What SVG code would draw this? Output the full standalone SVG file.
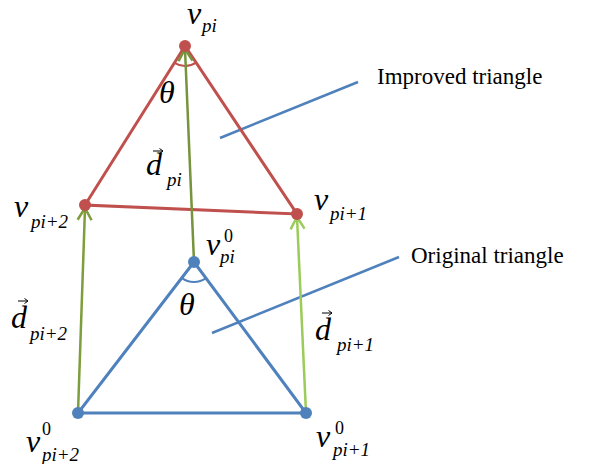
<svg xmlns="http://www.w3.org/2000/svg" width="604" height="464" viewBox="0 0 604 464">
<defs>
<marker id="a1" markerUnits="userSpaceOnUse" markerWidth="30" markerHeight="30" refX="15" refY="15" orient="auto" viewBox="0 0 30 30"><path d="M3,8 L15,15 L3,22" fill="none" stroke="#77933C" stroke-width="2.5"/></marker>
<marker id="a2" markerUnits="userSpaceOnUse" markerWidth="30" markerHeight="30" refX="15" refY="15" orient="auto" viewBox="0 0 30 30"><path d="M3,8 L15,15 L3,22" fill="none" stroke="#7E9E3C" stroke-width="2.5"/></marker>
<marker id="a3" markerUnits="userSpaceOnUse" markerWidth="30" markerHeight="30" refX="15" refY="15" orient="auto" viewBox="0 0 30 30"><path d="M3,8 L15,15 L3,22" fill="none" stroke="#9BCB5A" stroke-width="2.5"/></marker>
</defs>
<g id="connectors">
<line x1="220" y1="138" x2="358" y2="82" stroke="#4F81BD" stroke-width="2.5"/>
<line x1="212" y1="333" x2="399" y2="257" stroke="#4F81BD" stroke-width="2.5"/>
<polygon points="185,46 85,205 297,214" fill="none" stroke="#C0504D" stroke-width="3"/>
<polygon points="194,262 78,413 306,413" fill="none" stroke="#4F81BD" stroke-width="3"/>
<path d="M174.4,62.9 A20,20 0 0 0 196.1,62.6" fill="none" stroke="#C0504D" stroke-width="2"/>
<path d="M181.8,277.9 A20,20 0 0 0 205.9,278.1" fill="none" stroke="#4F81BD" stroke-width="2"/>
<line x1="194" y1="262" x2="185" y2="49" stroke="#77933C" stroke-width="2.5" marker-end="url(#a1)"/>
<line x1="78" y1="413" x2="85" y2="208" stroke="#7E9E3C" stroke-width="2.5" marker-end="url(#a2)"/>
<line x1="306" y1="413" x2="297" y2="217" stroke="#9BCB5A" stroke-width="2.5" marker-end="url(#a3)"/>
</g>
<g id="node-vpi">
<circle cx="185" cy="46" r="6" fill="#C0504D"/>
<text font-family="Liberation Serif" font-style="italic" font-size="32" x="187" y="24">v</text><text font-family="Liberation Serif" font-style="italic" font-size="19" x="202" y="32">pi</text>
</g>
<g id="node-vpi2">
<circle cx="85" cy="205" r="6" fill="#C0504D"/>
<text font-family="Liberation Serif" font-style="italic" font-size="32" x="14" y="217">v</text><text font-family="Liberation Serif" font-style="italic" font-size="19" x="31" y="228">pi+2</text>
</g>
<g id="node-vpi1">
<circle cx="297" cy="214" r="6" fill="#C0504D"/>
<text font-family="Liberation Serif" font-style="italic" font-size="32" x="314" y="210">v</text><text font-family="Liberation Serif" font-style="italic" font-size="19" x="330" y="220">pi+1</text>
</g>
<g id="node-v0pi">
<circle cx="194" cy="262" r="6" fill="#4F81BD"/>
<text font-family="Liberation Serif" font-style="italic" font-size="32" x="206" y="255">v</text><text font-family="Liberation Serif" font-size="18" x="224" y="242">0</text><text font-family="Liberation Serif" font-style="italic" font-size="19" x="220" y="263">pi</text>
</g>
<g id="node-v0pi2">
<circle cx="78" cy="413" r="6" fill="#4F81BD"/>
<text font-family="Liberation Serif" font-style="italic" font-size="32" x="26" y="452">v</text><text font-family="Liberation Serif" font-size="18" x="42" y="435">0</text><text font-family="Liberation Serif" font-style="italic" font-size="19" x="42" y="461">pi+2</text>
</g>
<g id="node-v0pi1">
<circle cx="306" cy="413" r="6" fill="#4F81BD"/>
<text font-family="Liberation Serif" font-style="italic" font-size="32" x="316" y="447">v</text><text font-family="Liberation Serif" font-size="18" x="335" y="434">0</text><text font-family="Liberation Serif" font-style="italic" font-size="19" x="333" y="456">pi+1</text>
</g>
<g id="label-theta-top"><text font-family="Liberation Serif" font-style="italic" font-size="32" x="159" y="103">θ</text></g>
<g id="label-theta-bottom"><text font-family="Liberation Serif" font-style="italic" font-size="32" x="179" y="315">θ</text></g>
<g id="label-dpi">
<text font-family="Liberation Serif" font-style="italic" font-size="32" x="146" y="175">d</text><text font-family="Liberation Serif" font-style="italic" font-size="19" x="167" y="186">pi</text>
<path d="M153,151 L163,151 M159.5,148.5 L163,151 L159.5,153.5" fill="none" stroke="#000" stroke-width="1"/>
</g>
<g id="label-dpi2">
<text font-family="Liberation Serif" font-style="italic" font-size="32" x="11" y="328">d</text><text font-family="Liberation Serif" font-style="italic" font-size="19" x="30" y="340">pi+2</text>
<path d="M18,301 L28,301 M24.5,298.5 L28,301 L24.5,303.5" fill="none" stroke="#000" stroke-width="1"/>
</g>
<g id="label-dpi1">
<text font-family="Liberation Serif" font-style="italic" font-size="32" x="315" y="340">d</text><text font-family="Liberation Serif" font-style="italic" font-size="19" x="337" y="351">pi+1</text>
<path d="M322,313 L332,313 M328.5,310.5 L332,313 L328.5,315.5" fill="none" stroke="#000" stroke-width="1"/>
</g>
<g id="label-improved"><text font-family="Liberation Serif" font-size="23" x="377" y="84">Improved triangle</text></g>
<g id="label-original"><text font-family="Liberation Serif" font-size="23" x="411" y="263">Original triangle</text></g>
</svg>
